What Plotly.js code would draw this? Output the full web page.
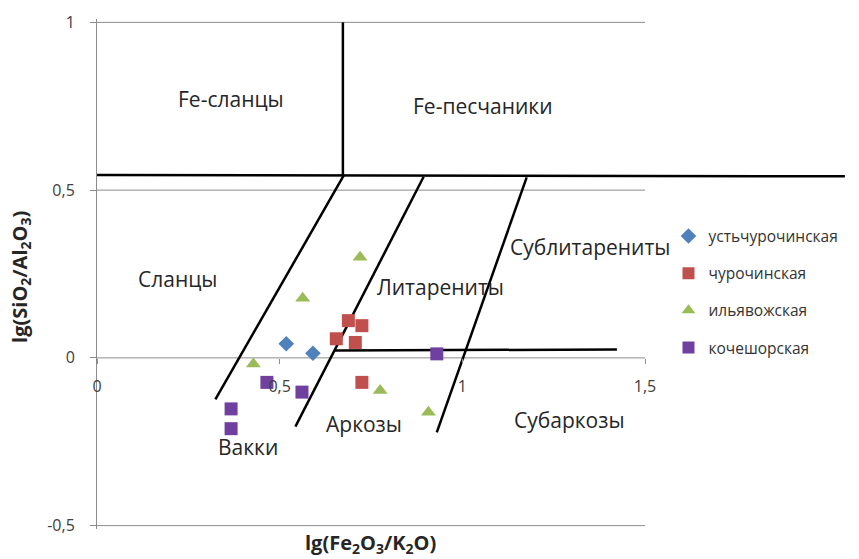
<!DOCTYPE html>
<html>
<head>
<meta charset="utf-8">
<script src="https://cdn.plot.ly/plotly-3.0.1.min.js"></script>
<style>html,body{margin:0;padding:0;background:#fff;}#chart{width:859px;height:559px;}</style>
</head>
<body>
<div id="chart"></div>
<script>
// Series data
var ustX = [0.518, 0.591];
var ustY = [0.042, 0.014];
var churX = [0.688, 0.725, 0.655, 0.707, 0.725];
var churY = [0.111, 0.096, 0.057, 0.046, -0.073];
var ilyaX = [0.720, 0.563, 0.428, 0.775, 0.907];
var ilyaY = [0.300, 0.178, -0.018, -0.097, -0.162];
var kochX = [0.465, 0.561, 0.367, 0.367, 0.930];
var kochY = [-0.073, -0.102, -0.152, -0.211, 0.012];
var seriesNames = ['устьчурочинская', 'чурочинская', 'ильявожская', 'кочешорская'];

// Classification boundaries (null separates segments)
var bndX = [0, 2.047, null, 0.673, 0.673, null, 0.675, 0.324, null, 0.894, 0.543, null, 1.176, 0.930, null, 0.650, 1.423];
var bndY = [0.545, 0.541, null, 1.0, 0.543, null, 0.543, -0.124, null, 0.540, -0.205, null, 0.538, -0.222, null, 0.022, 0.025];

// Region labels
var regionText = ['Fe-сланцы', 'Fe-песчаники', 'Сланцы', 'Литарениты', 'Сублитарениты', 'Аркозы', 'Вакки', 'Субаркозы'];
var regionX = [0.366, 1.056, 0.220, 0.940, 1.350, 0.731, 0.413, 1.294];
var regionY = [0.772, 0.751, 0.236, 0.212, 0.330, -0.197, -0.266, -0.185];

// Ticks
var xTickVals = [0, 0.5, 1, 1.5];
var xTickText = ['0', '0,5', '1', '1,5'];
var yTickVals = [-0.5, 0, 0.5, 1];
var yTickText = ['-0,5', '0', '0,5', '1'];

var FONT = 'Open Sans, Noto Sans, sans-serif';

var traces = [
  {x: bndX, y: bndY, mode: 'lines', line: {color: '#000', width: 2.5}, showlegend: false, hoverinfo: 'skip', connectgaps: false},
  {x: ustX, y: ustY, mode: 'markers', name: seriesNames[0], legendgroup: 'a', marker: {symbol: 'diamond', size: 12, color: '#4F81BD'}},
  {x: churX, y: churY, mode: 'markers', name: seriesNames[1], legendgroup: 'b', marker: {symbol: 'square', size: 13, color: '#C0504D'}},
  {x: ilyaX, y: ilyaY, mode: 'markers', name: seriesNames[2], legendgroup: 'c', marker: {symbol: 'triangle-up', size: 13, color: '#9BBB59'}},
  {x: kochX, y: kochY, mode: 'markers', name: seriesNames[3], legendgroup: 'd', marker: {symbol: 'square', size: 13, color: '#7040A0'}}
];

var shapes = [];
yTickVals.forEach(function (v) {
  shapes.push({type: 'line', xref: 'x', yref: 'y', x0: 0, x1: 1.5, y0: v, y1: v, line: {color: '#8c8c8c', width: 1}, layer: 'below'});
});

var annotations = regionText.map(function (t, i) {
  return {x: regionX[i], y: regionY[i], xref: 'x', yref: 'y', text: t, showarrow: false,
          font: {family: FONT, size: 21, color: '#262626'}, xanchor: 'center', yanchor: 'middle'};
});
annotations.push({x: 0.748, y: -0.028, xref: 'x', yref: 'paper', showarrow: false,
  text: '<b>lg(Fe<sub>2</sub>O<sub>3</sub>/K<sub>2</sub>O)</b>', font: {family: FONT, size: 20, color: '#262626'}, xanchor: 'center', yanchor: 'middle'});
annotations.push({x: -0.103, y: 0.494, xref: 'paper', yref: 'paper', showarrow: false, textangle: -90,
  text: '<b>lg(SiO<sub>2</sub>/Al<sub>2</sub>O<sub>3</sub>)</b>', font: {family: FONT, size: 20, color: '#262626'}, xanchor: 'center', yanchor: 'middle'});

var layout = {
  width: 859, height: 559,
  margin: {l: 97, r: 13, t: 19, b: 30},
  paper_bgcolor: '#fff', plot_bgcolor: '#fff',
  font: {family: FONT, size: 15, color: '#404040'},
  xaxis: {
    range: [0, 2.05], anchor: 'free', position: 0.51 / 1.52,
    showgrid: false, zeroline: false, showline: false,
    tickmode: 'array', tickvals: xTickVals, ticktext: xTickText,
    ticks: 'outside', ticklen: 5, tickcolor: '#8c8c8c', tickwidth: 1,
    ticklabelstandoff: 9,
    tickfont: {family: FONT, size: 16, color: '#404040'}
  },
  yaxis: {
    range: [-0.51, 1.01],
    showgrid: false, zeroline: false, showline: true, linecolor: '#8c8c8c', linewidth: 1,
    tickmode: 'array', tickvals: yTickVals, ticktext: yTickText,
    ticks: 'outside', ticklen: 6, tickcolor: '#8c8c8c', tickwidth: 1,
    ticklabelstandoff: 12,
    tickfont: {family: FONT, size: 16, color: '#404040'}
  },
  legend: {
    x: 0.763, y: 0.607, xanchor: 'left', yanchor: 'top',
    bgcolor: 'rgba(255,255,255,0)', borderwidth: 0,
    font: {family: FONT, size: 15.5, color: '#333'},
    tracegroupgap: 14, itemsizing: 'constant'
  },
  shapes: shapes,
  annotations: annotations,
  showlegend: true
};

Plotly.newPlot('chart', traces, layout, {staticPlot: true, displayModeBar: false});
</script>
</body>
</html>
